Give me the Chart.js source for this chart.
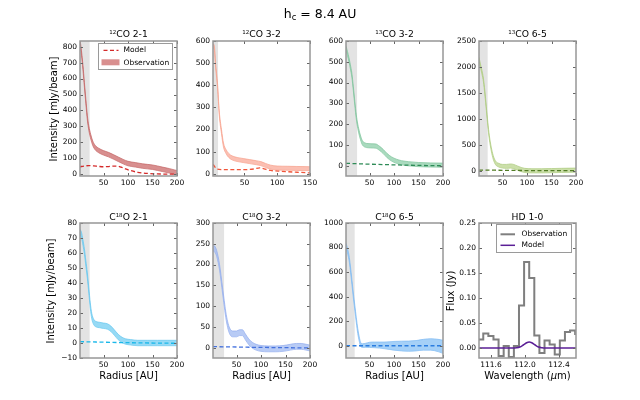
<!DOCTYPE html>
<html>
<head>
<meta charset="utf-8">
<script src="https://cdn.jsdelivr.net/npm/chart.js@4.4.0/dist/chart.umd.min.js"></script>
<style>
body{margin:0;background:#fff;}
#fig{position:relative;width:640px;height:400px;overflow:hidden;font-family:"DejaVu Sans",sans-serif;color:#000;background:#fff;}
#fig canvas{position:absolute;}
.t{position:absolute;white-space:nowrap;transform:translate(-50%,-50%);line-height:1;z-index:5;}
.pt{font-size:9.2px;}
.sup{font-size:5.5px;vertical-align:3.6px;line-height:0;}
.ax{font-size:10px;}
.rot{transform:translate(-50%,-50%) rotate(-90deg);}
.leg{position:absolute;border:1px solid #9a9a9a;background:#fff;z-index:6;box-sizing:border-box;}
.leg .lt{position:absolute;font-size:7.5px;line-height:1;transform:translateY(-50%);white-space:nowrap;}
.leg svg{position:absolute;left:0;top:0;}
</style>
</head>
<body>
<div id="fig">
  <div class="t" style="left:320px;top:13.5px;font-size:12.5px">h<sub style="font-size:8.5px;vertical-align:-2.5px;line-height:0">c</sub> = 8.4 AU</div>

  <div class="t pt" style="left:128.5px;top:34.2px"><span class="sup">12</span>CO 2-1</div>
  <div class="t pt" style="left:261.5px;top:34.2px"><span class="sup">12</span>CO 3-2</div>
  <div class="t pt" style="left:394.5px;top:34.2px"><span class="sup">13</span>CO 3-2</div>
  <div class="t pt" style="left:527.5px;top:34.2px"><span class="sup">13</span>CO 6-5</div>
  <div class="t pt" style="left:128.5px;top:216.7px">C<span class="sup">18</span>O 2-1</div>
  <div class="t pt" style="left:261.5px;top:216.7px">C<span class="sup">18</span>O 3-2</div>
  <div class="t pt" style="left:394.5px;top:216.7px">C<span class="sup">18</span>O 6-5</div>
  <div class="t pt" style="left:527.5px;top:216.7px">HD 1-0</div>

  <div class="t ax rot" style="left:53.5px;top:108.5px">Intensity [mJy/beam]</div>
  <div class="t ax rot" style="left:51px;top:290.5px">Intensity [mJy/beam]</div>
  <div class="t ax rot" style="left:451px;top:290.5px">Flux (Jy)</div>
  <div class="t ax" style="left:128.5px;top:376px">Radius [AU]</div>
  <div class="t ax" style="left:261.5px;top:376px">Radius [AU]</div>
  <div class="t ax" style="left:394.5px;top:376px">Radius [AU]</div>
  <div class="t ax" style="left:527.5px;top:376px">Wavelength (<i>μ</i>m)</div>

  <div class="leg" style="left:98px;top:43px;width:75px;height:26.5px">
    <svg width="75" height="26"><line x1="4.5" y1="6.3" x2="19.5" y2="6.3" stroke="#d42a2a" stroke-width="1.3" stroke-dasharray="4,2.5"/><rect x="2.5" y="15.3" width="18" height="6" fill="#d98f8f"/></svg>
    <div class="lt" style="left:24.5px;top:6.3px">Model</div>
    <div class="lt" style="left:24.5px;top:18.5px">Observation</div>
  </div>
  <div class="leg" style="left:496px;top:224px;width:76px;height:28.5px">
    <svg width="76" height="28"><line x1="3.5" y1="9.3" x2="18" y2="9.3" stroke="#7f7f7f" stroke-width="2"/><line x1="3.5" y1="20.3" x2="18" y2="20.3" stroke="#5b1f96" stroke-width="1.5"/></svg>
    <div class="lt" style="left:24.5px;top:9.3px">Observation</div>
    <div class="lt" style="left:24.5px;top:20.3px">Model</div>
  </div>
</div>
<script>
// ---------------- DATA ----------------
// tick values / labels
const radTicks200 = [50, 100, 150, 200];
const radLabels200 = ['50', '100', '150', '200'];
const radTicks150 = [50, 100, 150];
const radLabels150 = ['50', '100', '150'];
const yTicks_12co21 = [0, 100, 200, 300, 400, 500, 600, 700, 800];
const yTicks_12co32 = [0, 100, 200, 300, 400, 500, 600];
const yTicks_13co32 = [0, 100, 200, 300, 400, 500, 600];
const yTicks_13co65 = [0, 500, 1000, 1500, 2000, 2500];
const yTicks_c18o21 = [-10, 0, 10, 20, 30, 40, 50, 60, 70, 80];
const yLabels_c18o21 = ['\u221210', '0', '10', '20', '30', '40', '50', '60', '70', '80'];
const yTicks_c18o32 = [0, 50, 100, 150, 200, 250, 300];
const yTicks_c18o65 = [0, 200, 400, 600, 800, 1000];
const yTicks_hd = [0, 0.05, 0.10, 0.15, 0.20, 0.25];
const yLabels_hd = ['0.00', '0.05', '0.10', '0.15', '0.20', '0.25'];
const xTicks_hd = [111.6, 112.0, 112.4];
const xLabels_hd = ['111.6', '112.0', '112.4'];

// beam sizes (grey region, AU)
const beam = {co12_21: 22, co12_32: 10, co13_32: 25, co13_65: 20, c18o_21: 22, c18o_32: 25, c18o_65: 20};

// 12CO 2-1
const r_12co21 = [2, 5, 8, 11, 14, 17, 20, 24, 28, 33, 40, 50, 60, 70, 80, 90, 100, 115, 130, 150, 170, 185, 200];
const lo_12co21 = [816, 746, 656, 546, 441, 341, 276, 221, 181, 154, 136, 121, 110, 96, 81, 66, 54, 46, 38, 31, 18, 8, -4];
const hi_12co21 = [844, 774, 684, 574, 469, 369, 304, 249, 209, 182, 164, 149, 138, 124, 109, 94, 82, 74, 66, 59, 46, 36, 24];
const mr_12co21 = [2, 10, 20, 30, 40, 50, 60, 70, 78, 86, 95, 105, 120, 140, 160, 180, 200];
const m_12co21 = [48, 52, 55, 53, 50, 48, 49, 52, 52, 45, 34, 24, 13, 6, 3, 2, 2];

// 12CO 3-2
const r_12co32 = [2, 4, 6, 9, 11.5, 15, 18, 22, 26, 31, 40, 48, 58, 68, 75, 82, 90, 100, 115, 130, 150];
const lo_12co32 = [569, 561, 481, 386, 266, 181, 121, 91, 74, 63, 55, 51, 46, 41, 37, 29, 21, 17, 16, 15, 14];
const hi_12co32 = [587, 579, 499, 404, 284, 199, 139, 109, 92, 81, 73, 69, 64, 59, 55, 47, 39, 35, 34, 33, 32];
const mr_12co32 = [2, 4, 7, 15, 30, 50, 65, 73, 80, 90, 107, 130, 150];
const m_12co32 = [42, 35, 23, 19, 19, 19, 22, 27, 22, 15, 11, 7, 4];

// 13CO 3-2
const r_13co32 = [2, 5, 8, 11, 14, 17, 20, 23, 26, 30, 35, 40, 47, 55, 63, 70, 78, 86, 95, 105, 115, 130, 150, 175, 200];
const lo_13co32 = [555, 530, 500, 465, 425, 360, 290, 225, 180, 138, 102, 90, 86, 85, 84, 74, 58, 38, 22, 11, 4, -1, -5, -7, -8];
const hi_13co32 = [575, 550, 520, 485, 445, 380, 310, 245, 200, 158, 122, 110, 106, 105, 104, 94, 78, 58, 42, 31, 24, 19, 15, 13, 12];
const mr_13co32 = [2, 63, 132, 200];
const m_13co32 = [11, 6, 2, -1];

// 13CO 6-5
const r_13co65 = [2, 5, 8, 11, 14, 17, 20, 23, 27, 31, 36, 42, 50, 58, 66, 73, 80, 88, 95, 110, 130, 150, 170, 200];
const lo_13co65 = [2115, 1985, 1865, 1715, 1465, 1165, 865, 615, 385, 225, 115, 75, 53, 47, 52, 42, 15, -15, -32, -40, -40, -37, -32, -27];
const hi_13co65 = [2185, 2055, 1935, 1785, 1535, 1235, 935, 685, 455, 295, 185, 145, 123, 123, 132, 122, 95, 65, 48, 40, 40, 43, 48, 53];
const mr_13co65 = [2, 100, 200];
const m_13co65 = [15, 5, 2];

// C18O 2-1
const r_c18o21 = [2, 5, 8, 11, 14, 17, 20, 23, 26, 30, 35, 42, 50, 58, 65, 72, 80, 88, 95, 105, 120, 140, 160, 180, 200];
const lo_c18o21 = [72.2, 70.2, 65.2, 59.2, 51.2, 43.2, 33.2, 23.2, 16.2, 12.2, 10.7, 10.2, 9.7, 9.2, 7.7, 5.2, 2.2, 0.2, -0.8, -1.3, -1.8, -1.8, -1.8, -1.8, -1.8];
const hi_c18o21 = [75.8, 73.8, 68.8, 62.8, 54.8, 46.8, 36.8, 26.8, 19.8, 15.8, 14.3, 13.8, 13.3, 12.8, 11.3, 8.8, 5.8, 3.8, 2.8, 2.3, 1.8, 1.8, 1.8, 1.8, 1.8];
const mr_c18o21 = [2, 100, 200];
const m_c18o21 = [0.9, 0.2, -0.2];

// C18O 3-2
const r_c18o32 = [2, 5, 8, 11, 14, 17, 20, 24, 28, 32, 36, 42, 50, 56, 62, 68, 75, 82, 90, 100, 115, 130, 145, 160, 172, 182, 192, 200];
const lo_c18o32 = [233, 231, 225, 213, 196, 173, 145, 108, 73, 48, 33, 26, 26, 29, 29, 19, 7, -1, -6, -9, -10, -10, -9, -6, -4, -4, -6, -8];
const hi_c18o32 = [247, 245, 239, 227, 210, 187, 159, 122, 87, 62, 47, 40, 40, 43, 43, 33, 21, 13, 8, 5, 4, 4, 5, 8, 10, 10, 8, 6];
const mr_c18o32 = [2, 100, 200];
const m_c18o32 = [2.4, 0.5, -0.8];

// C18O 6-5
const r_c18o65 = [2, 5, 8, 11, 14, 17, 20, 23, 26, 29, 32, 36, 42, 50, 60, 70, 80, 90, 100, 115, 130, 145, 160, 175, 190, 200];
const lo_c18o65 = [795, 755, 700, 610, 500, 390, 290, 190, 100, 37, -6, -14, -13, -14, -16, -19, -24, -30, -36, -42, -45, -42, -36, -36, -48, -62];
const hi_c18o65 = [835, 795, 740, 650, 540, 430, 330, 230, 140, 73, 26, 16, 20, 28, 30, 30, 30, 32, 35, 37, 38, 42, 52, 57, 52, 45];
const mr_c18o65 = [2, 200];
const m_c18o65 = [0, 0];

// HD 1-0 spectrum (bin edges in micron, flux in Jy)
const hdEdges = [111.46, 111.51, 111.57, 111.63, 111.69, 111.75, 111.81, 111.87, 111.93, 111.99, 112.05, 112.11, 112.17, 112.23, 112.29, 112.35, 112.41, 112.47, 112.53, 112.59, 112.60];
const hdFlux = [0.017, 0.029, 0.024, 0.017, -0.016, 0.004, -0.018, 0.004, 0.085, 0.172, 0.140, 0.025, -0.010, 0.015, 0.007, -0.013, 0.015, 0.032, 0.035, 0.028];
const hdModelX = [111.46, 111.86, 111.90, 111.94, 111.98, 112.02, 112.05, 112.08, 112.12, 112.16, 112.20, 112.24, 112.60];
const hdModelY = [0, 0, 0.0005, 0.002, 0.006, 0.0105, 0.012, 0.0105, 0.006, 0.002, 0.0005, 0, 0];

// ---------------- RENDERING ----------------
Chart.defaults.font.family = '"DejaVu Sans", sans-serif';
Chart.defaults.color = '#000';

const PLOT_W = 97, PLOT_H = 135, AX_L = 40, AX_B = 20, PAD_T = 5, PAD_R = 8;

const framePlugin = {
  id: 'frame',
  afterDraw(chart) {
    const ctx = chart.ctx, a = chart.chartArea, sx = chart.scales.x, sy = chart.scales.y;
    ctx.save();
    ctx.strokeStyle = '#666';
    ctx.lineWidth = 1;
    ctx.beginPath();
    sx.ticks.forEach(t => {
      const p = Math.round(sx.getPixelForValue(t.value)) + 0.5;
      ctx.moveTo(p, a.bottom); ctx.lineTo(p, a.bottom - 3);
      ctx.moveTo(p, a.top); ctx.lineTo(p, a.top + 3);
    });
    sy.ticks.forEach(t => {
      const p = Math.round(sy.getPixelForValue(t.value)) + 0.5;
      ctx.moveTo(a.left, p); ctx.lineTo(a.left + 3, p);
      ctx.moveTo(a.right, p); ctx.lineTo(a.right - 3, p);
    });
    ctx.stroke();
    ctx.strokeStyle = '#979797';
    ctx.lineWidth = 1.5;
    ctx.strokeRect(a.left, a.top, a.right - a.left, a.bottom - a.top);
    ctx.restore();
  }
};

function axis(min, max, ticks, labels, dir) {
  return {
    type: 'linear', min: min, max: max,
    grid: {display: false, drawTicks: false},
    border: {display: false},
    afterBuildTicks: s => { s.ticks = ticks.map(v => ({value: v})); },
    ticks: {
      autoSkip: false, maxRotation: 0, minRotation: 0,
      padding: 3, font: {size: 7.5}, color: '#000',
      callback: (v, i) => labels[i]
    },
    afterFit: s => {
      if (dir === 'x') s.height = AX_B; else s.width = AX_L;
      s.paddingLeft = 0; s.paddingRight = 0; s.paddingTop = 0; s.paddingBottom = 0;
    }
  };
}

function pts(xs, ys) { return xs.map((x, i) => ({x: x, y: ys[i]})); }

function radialSets(xmin, ymax, beamX, r, lo, hi, fillC, edgeC, mr, m, mC) {
  return [
    {data: pts(mr, m), showLine: true, pointRadius: 0, borderColor: mC, borderWidth: 1.3,
     borderDash: [4, 2.5], cubicInterpolationMode: 'monotone', fill: false, order: 0},
    {data: pts(r, hi), showLine: true, pointRadius: 0, borderColor: edgeC, borderWidth: 0.8,
     backgroundColor: fillC, fill: '+1', cubicInterpolationMode: 'monotone', order: 1},
    {data: pts(r, lo), showLine: true, pointRadius: 0, borderColor: edgeC, borderWidth: 0.8,
     fill: false, cubicInterpolationMode: 'monotone', order: 1},
    {data: [{x: xmin, y: ymax}, {x: beamX, y: ymax}], showLine: true, pointRadius: 0,
     borderWidth: 0, borderColor: 'rgba(0,0,0,0)', backgroundColor: '#e3e3e3', fill: 'start', order: 2}
  ];
}

function makePanel(left, top, cfg) {
  const cv = document.createElement('canvas');
  const w = PLOT_W + AX_L + PAD_R, h = PLOT_H + PAD_T + AX_B;
  cv.width = w; cv.height = h;
  cv.style.left = (left - AX_L) + 'px';
  cv.style.top = (top - PAD_T) + 'px';
  cv.style.width = w + 'px';
  cv.style.height = h + 'px';
  document.getElementById('fig').appendChild(cv);
  new Chart(cv, {
    type: 'scatter',
    data: {datasets: cfg.datasets},
    options: {
      responsive: false, animation: false, events: [],
      layout: {padding: {left: 0, top: PAD_T, right: PAD_R, bottom: 0}},
      plugins: {legend: {display: false}, tooltip: {enabled: false}},
      scales: {
        x: axis(cfg.xmin, cfg.xmax, cfg.xticks, cfg.xlabels, 'x'),
        y: axis(cfg.ymin, cfg.ymax, cfg.yticks, cfg.ylabels, 'y')
      }
    },
    plugins: [framePlugin]
  });
}

const lefts = [80, 213, 346, 479];
const tops = [41, 223];
const lab = a => a.map(v => String(v));

makePanel(lefts[0], tops[0], {xmin: 2, xmax: 200, ymin: -10, ymax: 835,
  xticks: radTicks200, xlabels: radLabels200, yticks: yTicks_12co21, ylabels: lab(yTicks_12co21),
  datasets: radialSets(2, 835, beam.co12_21, r_12co21, lo_12co21, hi_12co21,
    'rgba(205,112,112,0.78)', 'rgba(195,100,100,0.9)', mr_12co21, m_12co21, '#d42a2a')});

makePanel(lefts[1], tops[0], {xmin: 2, xmax: 150, ymin: -10, ymax: 600,
  xticks: radTicks150, xlabels: radLabels150, yticks: yTicks_12co32, ylabels: lab(yTicks_12co32),
  datasets: radialSets(2, 600, beam.co12_32, r_12co32, lo_12co32, hi_12co32,
    'rgba(250,170,152,0.75)', 'rgba(247,160,140,0.9)', mr_12co32, m_12co32, '#f0553a')});

makePanel(lefts[2], tops[0], {xmin: 2, xmax: 200, ymin: -50, ymax: 600,
  xticks: radTicks200, xlabels: radLabels200, yticks: yTicks_13co32, ylabels: lab(yTicks_13co32),
  datasets: radialSets(2, 600, beam.co13_32, r_13co32, lo_13co32, hi_13co32,
    'rgba(140,205,168,0.75)', 'rgba(125,195,155,0.9)', mr_13co32, m_13co32, '#2e8b57')});

makePanel(lefts[3], tops[0], {xmin: 2, xmax: 200, ymin: -100, ymax: 2500,
  xticks: radTicks200, xlabels: radLabels200, yticks: yTicks_13co65, ylabels: lab(yTicks_13co65),
  datasets: radialSets(2, 2500, beam.co13_65, r_13co65, lo_13co65, hi_13co65,
    'rgba(185,212,140,0.75)', 'rgba(172,202,125,0.9)', mr_13co65, m_13co65, '#527d25')});

makePanel(lefts[0], tops[1], {xmin: 2, xmax: 200, ymin: -10, ymax: 80,
  xticks: radTicks200, xlabels: radLabels200, yticks: yTicks_c18o21, ylabels: yLabels_c18o21,
  datasets: radialSets(2, 80, beam.c18o_21, r_c18o21, lo_c18o21, hi_c18o21,
    'rgba(120,208,242,0.78)', 'rgba(100,198,238,0.9)', mr_c18o21, m_c18o21, '#1ab8ea')});

makePanel(lefts[1], tops[1], {xmin: 2, xmax: 200, ymin: -25, ymax: 300,
  xticks: radTicks200, xlabels: radLabels200, yticks: yTicks_c18o32, ylabels: lab(yTicks_c18o32),
  datasets: radialSets(2, 300, beam.c18o_32, r_c18o32, lo_c18o32, hi_c18o32,
    'rgba(160,185,242,0.75)', 'rgba(145,172,238,0.9)', mr_c18o32, m_c18o32, '#4472de')});

makePanel(lefts[2], tops[1], {xmin: 2, xmax: 200, ymin: -100, ymax: 1000,
  xticks: radTicks200, xlabels: radLabels200, yticks: yTicks_c18o65, ylabels: lab(yTicks_c18o65),
  datasets: radialSets(2, 1000, beam.c18o_65, r_c18o65, lo_c18o65, hi_c18o65,
    'rgba(140,195,245,0.78)', 'rgba(125,185,242,0.9)', mr_c18o65, m_c18o65, '#2b7de0')});

const histPts = hdFlux.map((f, i) => ({x: hdEdges[i], y: f}));
histPts.push({x: hdEdges[hdEdges.length - 1], y: hdFlux[hdFlux.length - 1]});

makePanel(lefts[3], tops[1], {xmin: 111.46, xmax: 112.60, ymin: -0.02, ymax: 0.25,
  xticks: xTicks_hd, xlabels: xLabels_hd, yticks: yTicks_hd, ylabels: yLabels_hd,
  datasets: [
    {data: pts(hdModelX, hdModelY), showLine: true, pointRadius: 0, borderColor: '#5b1f96',
     borderWidth: 1.5, cubicInterpolationMode: 'monotone', fill: false, order: 0},
    {data: histPts, showLine: true, pointRadius: 0, borderColor: '#7f7f7f', borderWidth: 2,
     stepped: true, fill: false, order: 1}
  ]});
</script>
</body>
</html>
